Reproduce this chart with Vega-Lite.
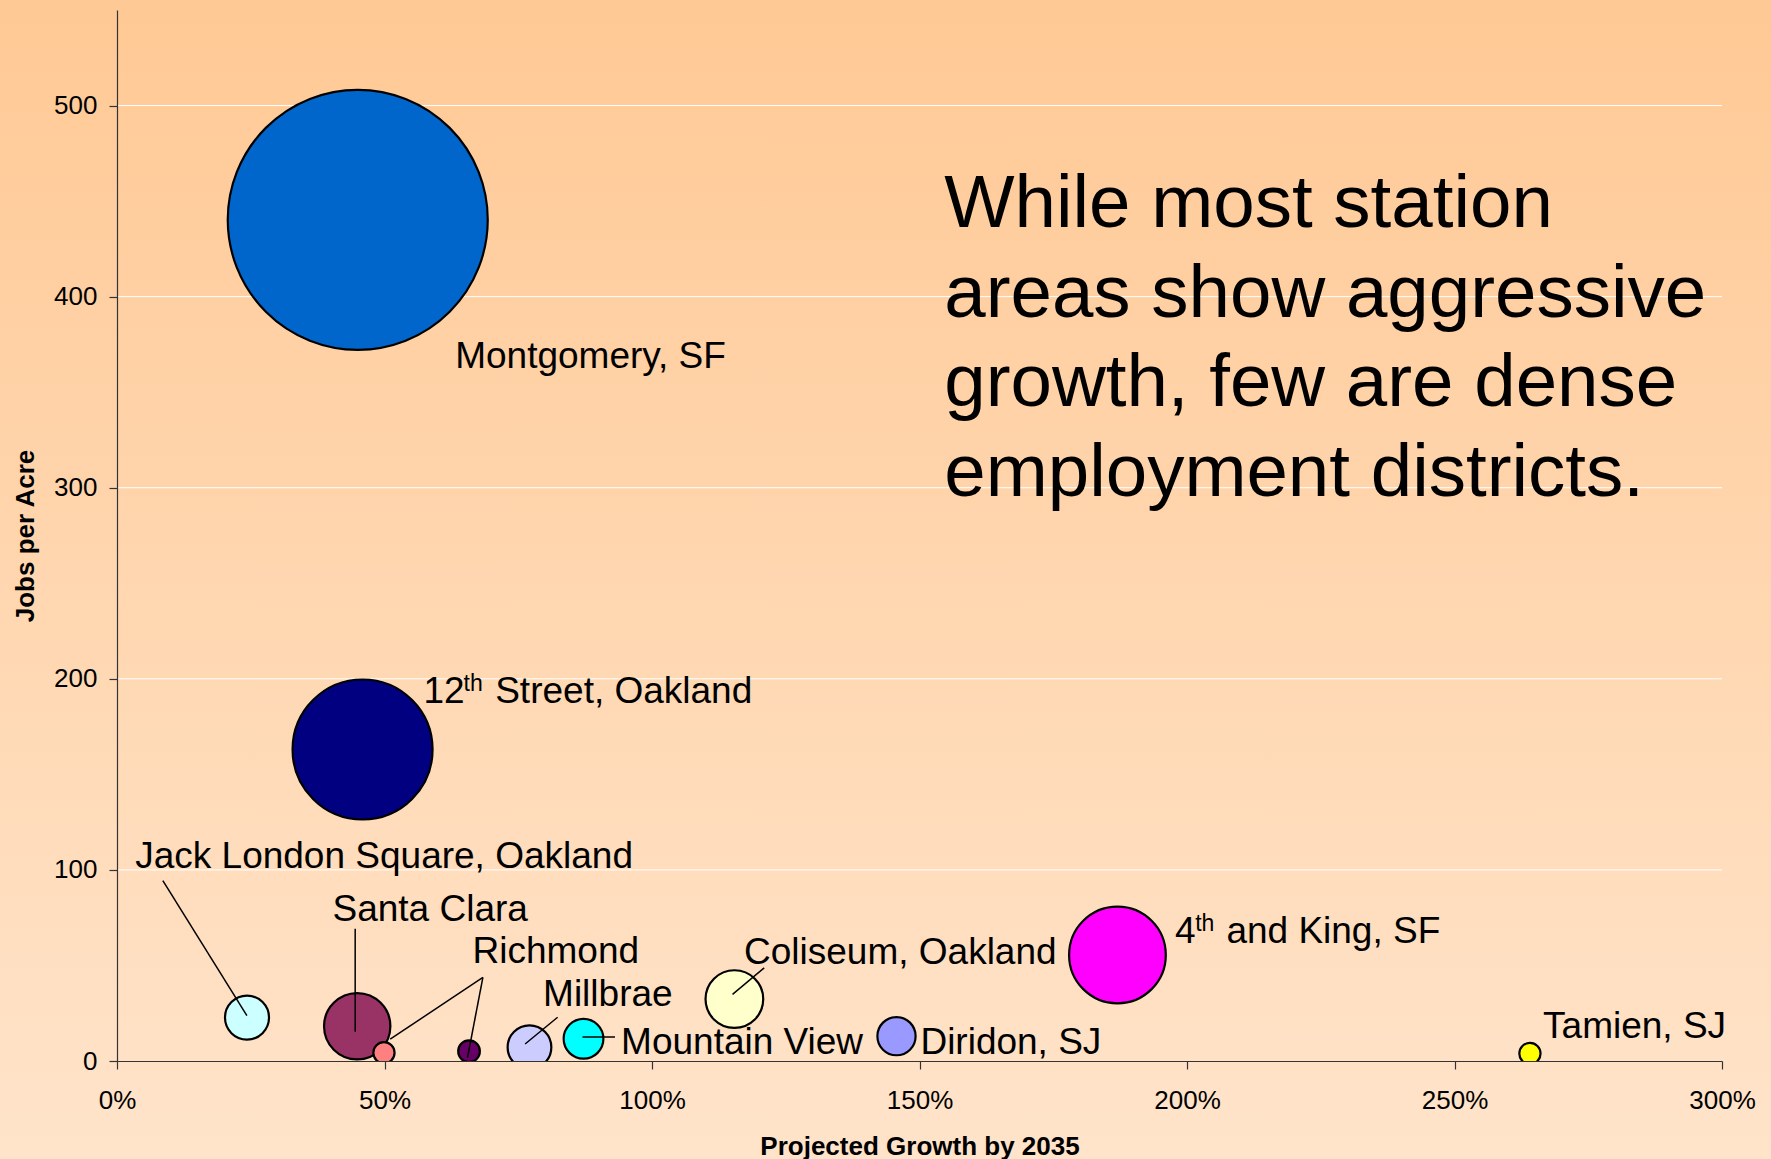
{
  "$schema": "https://vega.github.io/schema/vega-lite/v6.json",
  "width": 1605,
  "height": 1051,
  "autosize": {"type": "none"},
  "padding": {"left": 117, "top": 10, "right": 49, "bottom": 98},
  "background": "#FFD8B0",
  "config": {"view": {"stroke": null}, "font": "Liberation Sans"},
  "datasets": {
    "stations": [
      {"station": "Montgomery, SF", "growth": 0.450, "jobs": 440.2, "size": 676},
      {"station": "12th Street, Oakland", "growth": 0.459, "jobs": 163.0, "size": 196},
      {"station": "Jack London Square, Oakland", "growth": 0.243, "jobs": 22.7, "size": 19.4},
      {"station": "Santa Clara", "growth": 0.449, "jobs": 18.2, "size": 44.0},
      {"station": "Richmond A", "growth": 0.499, "jobs": 4.3, "size": 4.5},
      {"station": "Richmond B", "growth": 0.658, "jobs": 5.1, "size": 4.7},
      {"station": "Millbrae", "growth": 0.771, "jobs": 7.2, "size": 19.1},
      {"station": "Mountain View", "growth": 0.872, "jobs": 11.6, "size": 15.8},
      {"station": "Coliseum, Oakland", "growth": 1.154, "jobs": 32.4, "size": 33.3},
      {"station": "Diridon, SJ", "growth": 1.457, "jobs": 13.0, "size": 14.6},
      {"station": "4th and King, SF", "growth": 1.870, "jobs": 55.5, "size": 93.5},
      {"station": "Tamien, SJ", "growth": 2.641, "jobs": 3.9, "size": 4.5}
    ],
    "leaders": [
      {"x1": 0.0857, "y1": 94.4, "x2": 0.2428, "y2": 23.7},
      {"x1": 0.4452, "y1": 69.2, "x2": 0.4452, "y2": 15.3},
      {"x1": 0.6839, "y1": 43.8, "x2": 0.5107, "y2": 11.4},
      {"x1": 0.6839, "y1": 43.8, "x2": 0.6551, "y2": 1.7},
      {"x1": 0.8236, "y1": 22.9, "x2": 0.7628, "y2": 8.9},
      {"x1": 0.8701, "y1": 12.6, "x2": 0.9308, "y2": 12.6},
      {"x1": 1.2097, "y1": 48.7, "x2": 1.1505, "y2": 34.9}
    ],
    "labels": [
      {"label": "Montgomery, SF", "lx": 0.6321, "ly": 362.8},
      {"label": "12", "lx": 0.5729, "ly": 187.5},
      {"label": "Street, Oakland", "lx": 0.7069, "ly": 187.5},
      {"label": "Jack London Square, Oakland", "lx": 0.034, "ly": 100.8},
      {"label": "Santa Clara", "lx": 0.4028, "ly": 73.4},
      {"label": "Richmond", "lx": 0.6645, "ly": 51.1},
      {"label": "Millbrae", "lx": 0.7964, "ly": 28.8},
      {"label": "Mountain View", "lx": 0.9422, "ly": 3.7},
      {"label": "Coliseum, Oakland", "lx": 1.172, "ly": 50.6},
      {"label": "Diridon, SJ", "lx": 1.5017, "ly": 3.7},
      {"label": "4", "lx": 1.9778, "ly": 61.9},
      {"label": "and King, SF", "lx": 2.0736, "ly": 61.9},
      {"label": "Tamien, SJ", "lx": 2.6656, "ly": 11.9}
    ],
    "supers": [
      {"label": "th", "lx": 0.6477, "ly": 193.8},
      {"label": "th", "lx": 2.0153, "ly": 68.0}
    ],
    "grid": [{"v": 100}, {"v": 200}, {"v": 300}, {"v": 400}, {"v": 500}]
  },
  "layer": [
    {
      "data": {"values": [{}]},
      "mark": {
        "type": "rect",
        "clip": false,
        "fill": {
          "gradient": "linear",
          "x1": 0, "y1": 0, "x2": 0, "y2": 1,
          "stops": [
            {"offset": 0, "color": "#FFC893"},
            {"offset": 1, "color": "#FFE4CB"}
          ]
        }
      },
      "encoding": {
        "x": {
          "datum": -0.3, "type": "quantitative",
          "scale": {"domain": [0, 3], "nice": false, "zero": false},
          "axis": {
            "title": "Projected Growth by 2035",
            "format": "%",
            "values": [0, 0.5, 1, 1.5, 2, 2.5, 3],
            "grid": false,
            "labelFlush": false,
            "labelOverlap": false,
            "tickSize": 8,
            "labelPadding": 18,
            "labelFontSize": 26,
            "labelColor": "#000000",
            "labelFont": "Liberation Sans",
            "titleFont": "Liberation Sans",
            "titleFontSize": 26,
            "titleFontWeight": "bold",
            "titleColor": "#000000",
            "titlePadding": 20,
            "domainColor": "#333333",
            "tickColor": "#333333",
            "domainWidth": 1.2,
            "tickWidth": 1.2,
            "zindex": 1
          }
        },
        "x2": {"datum": 3.2},
        "y": {
          "datum": -60, "type": "quantitative",
          "scale": {"domain": [0, 550], "nice": false, "zero": false},
          "axis": {
            "title": "Jobs per Acre",
            "values": [0, 100, 200, 300, 400, 500],
            "grid": false,
            "tickSize": 8,
            "labelPadding": 12,
            "labelFontSize": 26,
            "labelColor": "#000000",
            "labelFont": "Liberation Sans",
            "titleFont": "Liberation Sans",
            "titleFontSize": 26,
            "titleFontWeight": "bold",
            "titleColor": "#000000",
            "titlePadding": 15,
            "domainColor": "#333333",
            "tickColor": "#333333",
            "domainWidth": 1.2,
            "tickWidth": 1.2,
            "zindex": 1
          }
        },
        "y2": {"datum": 570}
      }
    },
    {
      "data": {"name": "grid"},
      "mark": {"type": "rule", "color": "#FFFFFF", "strokeWidth": 1},
      "encoding": {
        "y": {"field": "v", "type": "quantitative", "scale": {"domain": [0, 550], "nice": false, "zero": false}},
        "x": {"datum": 0, "type": "quantitative", "scale": {"domain": [0, 3], "nice": false, "zero": false}},
        "x2": {"datum": 3}
      }
    },
    {
      "data": {"name": "stations"},
      "mark": {"type": "point", "shape": "circle", "filled": true, "opacity": 1, "stroke": "#000000", "strokeWidth": 2.2, "clip": true},
      "encoding": {
        "x": {"field": "growth", "type": "quantitative", "scale": {"domain": [0, 3], "nice": false, "zero": false}},
        "y": {"field": "jobs", "type": "quantitative", "scale": {"domain": [0, 550], "nice": false, "zero": false}},
        "size": {"field": "size", "type": "quantitative", "scale": {"type": "linear", "domain": [0, 676], "range": [0, 67600], "zero": true}, "legend": null},
        "color": {
          "field": "station", "type": "nominal", "legend": null,
          "scale": {
            "domain": ["Montgomery, SF", "12th Street, Oakland", "Jack London Square, Oakland", "Santa Clara", "Richmond A", "Richmond B", "Millbrae", "Mountain View", "Coliseum, Oakland", "Diridon, SJ", "4th and King, SF", "Tamien, SJ"],
            "range": ["#0066CC", "#000080", "#CCFFFF", "#993366", "#FF8080", "#660066", "#CCCCFF", "#00FFFF", "#FFFFCC", "#9999FF", "#FF00FF", "#FFFF00"]
          }
        }
      }
    },
    {
      "data": {"name": "leaders"},
      "mark": {"type": "rule", "color": "#000000", "strokeWidth": 1.5},
      "encoding": {
        "x": {"field": "x1", "type": "quantitative", "scale": {"domain": [0, 3], "nice": false, "zero": false}},
        "y": {"field": "y1", "type": "quantitative", "scale": {"domain": [0, 550], "nice": false, "zero": false}},
        "x2": {"field": "x2"},
        "y2": {"field": "y2"}
      }
    },
    {
      "data": {"name": "labels"},
      "mark": {"type": "text", "align": "left", "baseline": "alphabetic", "fontSize": 37, "font": "Liberation Sans", "color": "#000000"},
      "encoding": {
        "x": {"field": "lx", "type": "quantitative", "scale": {"domain": [0, 3], "nice": false, "zero": false}},
        "y": {"field": "ly", "type": "quantitative", "scale": {"domain": [0, 550], "nice": false, "zero": false}},
        "text": {"field": "label"}
      }
    },
    {
      "data": {"name": "supers"},
      "mark": {"type": "text", "align": "left", "baseline": "alphabetic", "fontSize": 23, "font": "Liberation Sans", "color": "#000000"},
      "encoding": {
        "x": {"field": "lx", "type": "quantitative", "scale": {"domain": [0, 3], "nice": false, "zero": false}},
        "y": {"field": "ly", "type": "quantitative", "scale": {"domain": [0, 550], "nice": false, "zero": false}},
        "text": {"field": "label"}
      }
    },
    {
      "data": {"values": [{}]},
      "mark": {
        "type": "text",
        "align": "left",
        "baseline": "alphabetic",
        "fontSize": 74.5,
        "lineHeight": 89.6,
        "font": "Liberation Sans",
        "color": "#000000",
        "text": ["While most station", "areas show aggressive", "growth, few are dense", "employment districts."]
      },
      "encoding": {
        "x": {"datum": 1.5462, "type": "quantitative", "scale": {"domain": [0, 3], "nice": false, "zero": false}},
        "y": {"datum": 436.3, "type": "quantitative", "scale": {"domain": [0, 550], "nice": false, "zero": false}}
      }
    }
  ]
}
